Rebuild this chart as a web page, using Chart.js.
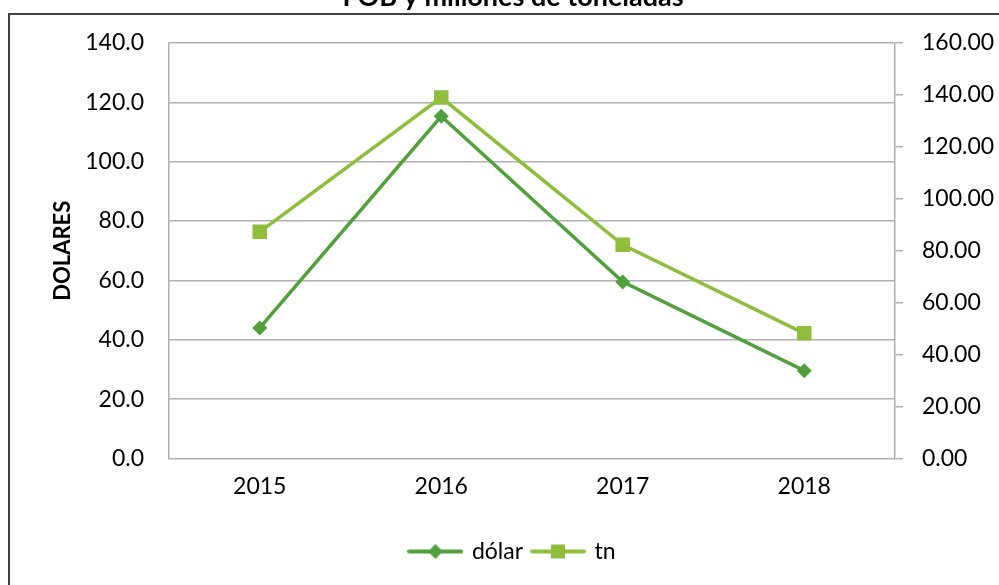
<!DOCTYPE html>
<html>
<head>
<meta charset="utf-8">
<script src="https://cdn.jsdelivr.net/npm/chart.js@4"></script>
<style>
  html, body { margin: 0; padding: 0; background: #fff; overflow: hidden; width: 999px; height: 585px; }
  #frame { position: absolute; left: 8px; top: 13px; width: 2000px; height: 2000px; border: 2px solid #404040; pointer-events: none; }
  #myChart { position: absolute; left: 0; top: -20px; }
</style>
</head>
<body>
<canvas id="myChart" width="1018" height="605"></canvas>
<div id="frame"></div>
<script>
// ------------------------- data ------------------------- //
const years = ['2015', '2016', '2017', '2018'];
const dolar = [44.0, 115.3, 59.5, 29.6];
const tn = [87.3, 139.0, 82.3, 48.2];
const leftTicks = [0, 20, 40, 60, 80, 100, 120, 140];
const rightTicks = [0, 20, 40, 60, 80, 100, 120, 140, 160];

const colDolar = '#50a03c';
const colTn = '#8ebe3c';
const gridCol = '#b0b0b0';

Chart.defaults.font.family = 'Lato';
Chart.defaults.color = '#000';

// legend icons: line with marker, like the spreadsheet legend
function legendIcon(color, shape) {
    const c = document.createElement('canvas');
    c.width = 56; c.height = 22;
    const g = c.getContext('2d');
    g.strokeStyle = color;
    g.lineWidth = 4;
    g.lineCap = 'round';
    g.beginPath(); g.moveTo(2, 11); g.lineTo(54, 11); g.stroke();
    g.fillStyle = color;
    g.beginPath();
    if (shape === 'diamond') {
        g.moveTo(28, 3.5); g.lineTo(35.5, 11); g.lineTo(28, 18.5); g.lineTo(20.5, 11);
    } else {
        g.rect(21, 4, 14, 14);
    }
    g.closePath(); g.fill();
    return c;
}
const icons = [legendIcon(colDolar, 'diamond'), legendIcon(colTn, 'square')];

const ctx = document.getElementById('myChart');
const myChart = new Chart(ctx, {
    type: 'line',
    data: {
        labels: years,
        datasets: [{
            label: 'dólar',
            data: dolar,
            yAxisID: 'y',
            borderColor: colDolar,
            backgroundColor: colDolar,
            borderWidth: 3.5,
            pointStyle: 'rectRot',
            pointRadius: 7.5,
            pointBorderWidth: 0,
            tension: 0
        }, {
            label: 'tn',
            data: tn,
            yAxisID: 'y1',
            borderColor: colTn,
            backgroundColor: colTn,
            borderWidth: 3.5,
            pointStyle: 'rect',
            pointRadius: 10.3,
            pointBorderWidth: 0,
            tension: 0
        }]
    },
    options: {
        responsive: false,
        devicePixelRatio: 1,
        animation: false,
        layout: { padding: { left: 8, right: 0, top: 0, bottom: 12 } },
        plugins: {
            title: {
                display: true,
                text: 'FOB y millones de toneladas',
                font: { size: 27, weight: 'bold' },
                padding: { top: 1, bottom: 29.6 }
            },
            legend: {
                position: 'bottom',
                labels: {
                    usePointStyle: true,
                    pointStyleWidth: 50,
                    font: { size: 23 },
                    padding: 10,
                    generateLabels: chart => Chart.defaults.plugins.legend.labels.generateLabels(chart)
                        .map((l, i) => ({ ...l, pointStyle: icons[i] }))
                }
            },
            tooltip: { enabled: false }
        },
        scales: {
            x: {
                offset: true,
                grid: { display: false, drawTicks: false },
                border: { display: false },
                ticks: { font: { size: 23 }, padding: 14 },
                afterFit: s => { s.height = 71.5; }
            },
            y: {
                position: 'left',
                min: 0,
                max: 140,
                afterBuildTicks: s => { s.ticks = leftTicks.map(v => ({ value: v })); },
                grid: { color: gridCol, lineWidth: 1.5, drawTicks: false },
                border: { display: true, color: gridCol, width: 1.5 },
                ticks: { font: { size: 23 }, padding: 25, callback: v => v.toFixed(1) },
                title: {
                    display: true,
                    text: 'DOLARES',
                    font: { size: 22, weight: 'bold' },
                    padding: { top: 42, bottom: 0 }
                },
                afterFit: s => { s.width = 161; }
            },
            y1: {
                position: 'right',
                min: 0,
                max: 160,
                afterBuildTicks: s => { s.ticks = rightTicks.map(v => ({ value: v })); },
                grid: { drawOnChartArea: false, color: gridCol, lineWidth: 1.5, tickLength: 8 },
                border: { display: true, color: gridCol, width: 1.5 },
                ticks: { font: { size: 23 }, padding: 19, callback: v => v.toFixed(2) },
                afterFit: s => { s.width = 123; }
            }
        }
    }
});
</script>
</body>
</html>
